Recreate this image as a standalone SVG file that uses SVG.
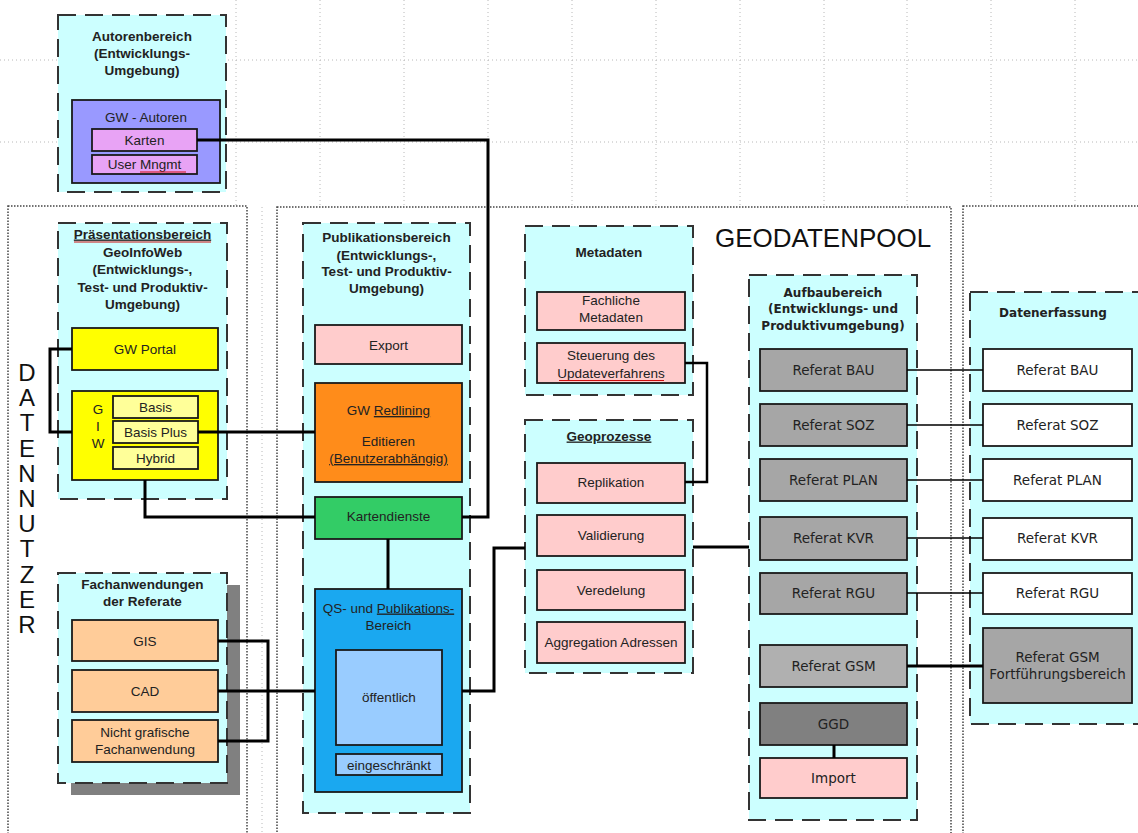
<svg xmlns="http://www.w3.org/2000/svg" width="1138" height="833" viewBox="0 0 1138 833">
<style>
.grid{stroke:#b8b8b8;stroke-width:1;stroke-dasharray:1 3;fill:none}
.frame{fill:#fff;stroke:#444;stroke-width:1.5;stroke-dasharray:1.5 1.5}
.cont{fill:#ccffff;stroke:#333;stroke-width:2;stroke-dasharray:18 9}
.box{stroke:#1a1a1a;stroke-width:1.8}
.t{font-family:"Liberation Sans",Arial,sans-serif;font-size:13.5px;fill:#222;text-anchor:middle}
.b{font-weight:bold}
.d{font-family:"DejaVu Sans",Verdana,sans-serif;font-size:13.5px}
.db{font-family:"DejaVu Sans",Verdana,sans-serif;font-size:12px;font-weight:bold}
.u{text-decoration:underline}
.c{fill:none;stroke:#000;stroke-width:3}
.ct{fill:none;stroke:#000;stroke-width:1.5}
.red{fill:none;stroke:#d01010;stroke-width:1.2}
.big{font-family:"Liberation Sans",Arial,sans-serif;fill:#111}
</style>

<rect width="1138" height="833" fill="#fff"/>

<g id="grid">
<path class="grid" d="M0,60H1138M0,142H1138M236,0V207M320,0V207M404,0V207M488,0V207M572,0V207M656,0V207M740,0V207M824,0V207M907,0V207M991,0V207M1075,0V207M262,207V833"/>
</g>

<g id="frames">
<rect class="frame" x="8" y="206" width="239" height="660"/>
<rect class="frame" x="277" y="207" width="674" height="660"/>
<rect class="frame" x="963" y="206" width="200" height="660"/>
<text class="big" x="715" y="247" font-size="26">GEODATENPOOL</text>
<g class="big" font-size="24" text-anchor="middle">
<text x="27" y="381">D</text>
<text x="27" y="406">A</text>
<text x="27" y="431">T</text>
<text x="27" y="457">E</text>
<text x="27" y="482">N</text>
<text x="27" y="507">N</text>
<text x="27" y="532">U</text>
<text x="27" y="557">T</text>
<text x="27" y="583">Z</text>
<text x="27" y="608">E</text>
<text x="27" y="633">R</text>
</g>
</g>

<g id="autorenbereich">
<rect class="cont" x="58" y="15" width="168" height="177"/>
<text class="t b" x="142" y="41">Autorenbereich</text>
<text class="t b" x="142" y="58">(Entwicklungs-</text>
<text class="t b" x="142" y="75">Umgebung)</text>
<rect class="box" x="72" y="100" width="148" height="83" fill="#9999ff"/>
<text class="t" x="146" y="122">GW - Autoren</text>
</g>
<g id="karten">
<rect class="box" x="92" y="129" width="105" height="22" fill="#e8a3f5"/>
<text class="t" x="144.5" y="145">Karten</text>
</g>
<g id="usermngmt">
<rect class="box" x="92" y="155" width="105" height="19" fill="#e8a3f5"/>
<text class="t" x="144.5" y="169">User Mngmt</text>
<path class="red" d="M140,172H186"/>
</g>

<g id="praesentationsbereich">
<rect class="cont" x="58" y="223" width="169" height="276"/>
<text class="t b u" x="142.5" y="238.5">Präsentationsbereich</text>
<path class="red" d="M74,242H211"/>
<text class="t b" x="142.5" y="256.5">GeoInfoWeb</text>
<text class="t b" x="142.5" y="273.5">(Entwicklungs-,</text>
<text class="t b" x="142.5" y="291.5">Test- und Produktiv-</text>
<text class="t b" x="142.5" y="308.5">Umgebung)</text>
</g>
<g id="gwportal">
<rect class="box" x="72" y="328" width="146" height="42" fill="#ffff00"/>
<text class="t" x="145" y="354">GW Portal</text>
</g>
<g id="giw">
<rect class="box" x="72" y="391" width="146" height="89" fill="#ffff00"/>
<text class="t" x="98" y="414">G</text>
<text class="t" x="98" y="431">I</text>
<text class="t" x="98" y="448">W</text>
</g>
<g id="basis">
<rect class="box" x="113" y="396" width="85" height="22" fill="#ffff99"/>
<text class="t" x="155.5" y="411.5">Basis</text>
</g>
<g id="basisplus">
<rect class="box" x="113" y="421" width="85" height="22" fill="#ffff99"/>
<text class="t" x="155.5" y="436.5">Basis Plus</text>
</g>
<g id="hybrid">
<rect class="box" x="113" y="447" width="85" height="22" fill="#ffff99"/>
<text class="t" x="155.5" y="462.5">Hybrid</text>
</g>

<g id="fachanwendungen">
<rect x="71" y="585" width="169" height="210" fill="#808080"/>
<rect class="cont" x="58" y="573" width="169" height="210"/>
<text class="t b" x="142.5" y="588.5">Fachanwendungen</text>
<text class="t b" x="142.5" y="605.5">der Referate</text>
</g>
<g id="gis">
<rect class="box" x="72" y="620" width="146" height="41" fill="#ffcc99"/>
<text class="t" x="145" y="645.5">GIS</text>
</g>
<g id="cad">
<rect class="box" x="72" y="670" width="146" height="42" fill="#ffcc99"/>
<text class="t" x="145" y="695.5">CAD</text>
</g>
<g id="nichtgrafisch">
<rect class="box" x="72" y="720" width="146" height="42" fill="#ffcc99"/>
<text class="t" x="145" y="737">Nicht grafische</text>
<text class="t" x="145" y="754">Fachanwendung</text>
</g>

<g id="publikationsbereich">
<rect class="cont" x="303" y="223" width="167" height="590"/>
<text class="t b" x="386.5" y="241.5">Publikationsbereich</text>
<text class="t b" x="386.5" y="259.5">(Entwicklungs-,</text>
<text class="t b" x="386.5" y="275.5">Test- und Produktiv-</text>
<text class="t b" x="386.5" y="292.5">Umgebung)</text>
</g>
<g id="export">
<rect class="box" x="315" y="325" width="147" height="39" fill="#ffcccc"/>
<text class="t" x="388.5" y="349.5">Export</text>
</g>
<g id="redlining">
<rect class="box" x="315" y="383" width="147" height="99" fill="#ff8c1a"/>
<text class="t" x="388.5" y="415" fill="#3a2000">GW <tspan class="u">Redlining</tspan></text>
<text class="t" x="388.5" y="446" fill="#3a2000">Editieren</text>
<text class="t u" x="388.5" y="463" fill="#3a2000">(Benutzerabhängig)</text>
</g>
<g id="kartendienste">
<rect class="box" x="315" y="497" width="147" height="42" fill="#33cc66"/>
<text class="t" x="388.5" y="521">Kartendienste</text>
</g>
<g id="qs">
<rect class="box" x="315" y="589" width="147" height="203" fill="#1aa8f0"/>
<text class="t" x="388.5" y="612.5" fill="#1a2a55">QS- und <tspan class="u">Publikations-</tspan></text>
<text class="t" x="388.5" y="629.5" fill="#1a2a55">Bereich</text>
</g>
<g id="oeffentlich">
<rect class="box" x="336" y="650" width="106" height="95" fill="#99ccff"/>
<text class="t" x="389" y="701.5">öffentlich</text>
</g>
<g id="eingeschraenkt">
<rect class="box" x="336" y="754" width="106" height="21" fill="#99ccff"/>
<text class="t" x="389" y="769.5">eingeschränkt</text>
</g>

<g id="metadaten">
<rect class="cont" x="525" y="226" width="168" height="169"/>
<text class="t b" x="609" y="256.5">Metadaten</text>
</g>
<g id="fachlichemetadaten">
<rect class="box" x="537" y="292" width="148" height="38" fill="#ffcccc"/>
<text class="t" x="611" y="305">Fachliche</text>
<text class="t" x="611" y="322">Metadaten</text>
</g>
<g id="steuerung">
<rect class="box" x="537" y="343" width="148" height="40" fill="#ffcccc"/>
<text class="t" x="611" y="359.5">Steuerung des</text>
<text class="t" x="611" y="377.5">Updateverfahrens</text>
<path class="red" d="M559,380.5H664"/>
</g>

<g id="geoprozesse">
<rect class="cont" x="525" y="420" width="168" height="253"/>
<text class="t b u" x="609" y="440.5">Geoprozesse</text>
</g>
<g id="replikation">
<rect class="box" x="537" y="463" width="148" height="40" fill="#ffcccc"/>
<text class="t" x="611" y="487">Replikation</text>
</g>
<g id="validierung">
<rect class="box" x="537" y="515" width="148" height="41" fill="#ffcccc"/>
<text class="t" x="611" y="540">Validierung</text>
</g>
<g id="veredelung">
<rect class="box" x="537" y="570" width="148" height="40" fill="#ffcccc"/>
<text class="t" x="611" y="594.5">Veredelung</text>
</g>
<g id="aggregation">
<rect class="box" x="537" y="622" width="148" height="41" fill="#ffcccc"/>
<text class="t" x="611" y="647">Aggregation Adressen</text>
</g>

<g id="aufbaubereich">
<rect class="cont" x="749" y="275" width="168" height="545"/>
<text class="t db" x="833" y="296.5">Aufbaubereich</text>
<text class="t db" x="833" y="312.5">(Entwicklungs- und</text>
<text class="t db" x="833" y="329.5">Produktivumgebung)</text>
</g>
<g id="a-bau"><rect class="box" x="760" y="349" width="147" height="42" fill="#a6a6a6"/><text class="t d" x="833.5" y="375">Referat BAU</text></g>
<g id="a-soz"><rect class="box" x="760" y="404" width="147" height="42" fill="#a6a6a6"/><text class="t d" x="833.5" y="430">Referat SOZ</text></g>
<g id="a-plan"><rect class="box" x="760" y="459" width="147" height="42" fill="#a6a6a6"/><text class="t d" x="833.5" y="485">Referat PLAN</text></g>
<g id="a-kvr"><rect class="box" x="760" y="517" width="147" height="43" fill="#a6a6a6"/><text class="t d" x="833.5" y="543">Referat KVR</text></g>
<g id="a-rgu"><rect class="box" x="760" y="573" width="147" height="41" fill="#a6a6a6"/><text class="t d" x="833.5" y="598">Referat RGU</text></g>
<g id="a-gsm"><rect class="box" x="760" y="645" width="147" height="42" fill="#b0b0b0"/><text class="t d" x="833.5" y="671">Referat GSM</text></g>
<g id="ggd"><rect class="box" x="760" y="703" width="147" height="42" fill="#808080"/><text class="t d" x="833.5" y="729">GGD</text></g>
<g id="import"><rect class="box" x="760" y="758" width="147" height="40" fill="#ffcccc"/><text class="t d" x="833.5" y="783">Import</text></g>

<g id="datenerfassung">
<rect class="cont" x="970" y="292" width="185" height="432"/>
<text class="t db" x="1053" y="316.5">Datenerfassung</text>
</g>
<g id="d-bau"><rect class="box" x="983" y="349" width="149" height="42" fill="#fff"/><text class="t d" x="1057.5" y="375">Referat BAU</text></g>
<g id="d-soz"><rect class="box" x="983" y="404" width="149" height="42" fill="#fff"/><text class="t d" x="1057.5" y="430">Referat SOZ</text></g>
<g id="d-plan"><rect class="box" x="983" y="459" width="149" height="42" fill="#fff"/><text class="t d" x="1057.5" y="485">Referat PLAN</text></g>
<g id="d-kvr"><rect class="box" x="983" y="518" width="149" height="42" fill="#fff"/><text class="t d" x="1057.5" y="543">Referat KVR</text></g>
<g id="d-rgu"><rect class="box" x="983" y="573" width="149" height="41" fill="#fff"/><text class="t d" x="1057.5" y="598">Referat RGU</text></g>
<g id="d-gsm"><rect class="box" x="983" y="628" width="149" height="75" fill="#a6a6a6"/><text class="t d" x="1057.5" y="662">Referat GSM</text><text class="t d" x="1057.5" y="679">Fortführungsbereich</text></g>

<g id="connectors">
<path class="c" d="M197,140H488V517H462"/>
<path class="c" d="M72,349H50V432H72"/>
<path class="c" d="M198,432H315"/>
<path class="c" d="M145,480V517H315"/>
<path class="c" d="M218,641H268V741H218"/>
<path class="c" d="M218,691H315"/>
<path class="c" d="M388,539V589"/>
<path class="c" d="M462,691H494V548H525"/>
<path class="c" style="stroke-width:2.5" d="M685,363H707V482H685"/>
<path class="c" d="M693,547H749"/>
<path class="ct" d="M907,370H983M907,425H983M907,480H983M907,538H983M907,593H983"/>
<path class="c" d="M907,666H983"/>
<path class="c" d="M834,745V758"/>
</g>
</svg>
